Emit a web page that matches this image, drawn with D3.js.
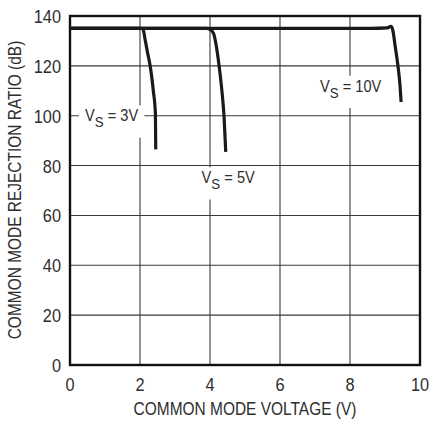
<!DOCTYPE html>
<html>
<head>
<meta charset="utf-8">
<script src="https://cdn.jsdelivr.net/npm/d3@7"></script>
<style>
  body { margin: 0; background: #fff; }
  svg text { font-family: "Liberation Sans", Arial, sans-serif; fill: #2e2e2e; }
</style>
</head>
<body>
<svg id="chart" width="435" height="424"></svg>
<script>
// CMRR vs common mode voltage
const xTicks = [0, 2, 4, 6, 8, 10];
const yTicks = [0, 20, 40, 60, 80, 100, 120, 140];

const vs3 = [[0, 135], [2.03, 135], [2.09, 134.6], [2.14, 131], [2.22, 125], [2.29, 120], [2.38, 110], [2.44, 101], [2.45, 86.5]];
const vs5 = [[0, 135], [3.9, 135], [4.0, 134.6], [4.1, 133], [4.18, 128], [4.26, 120], [4.34, 110], [4.4, 100], [4.45, 85.5]];
const vs10 = [[0, 135], [8.6, 135], [9.05, 135.2], [9.17, 135.8], [9.22, 134.5], [9.29, 128], [9.37, 120], [9.43, 112], [9.46, 105.5]];

const series = [vs3, vs5, vs10];
const labels = [
  { v: "3V", x: 1.19, y: 97.7 },
  { v: "5V", x: 4.52, y: 72.9 },
  { v: "10V", x: 8.02, y: 109.6 }
];

const SX = 0.86; // narrow the face horizontally, like the condensed original

const svg = d3.select("#chart");
const m = { l: 70, r: 15, t: 16, b: 59 };
const W = 435, H = 424;
const x = d3.scaleLinear().domain([0, 10]).range([m.l, W - m.r]);
const y = d3.scaleLinear().domain([0, 140]).range([H - m.b, m.t]);

const g = svg.append("g");

function addText(px, py, str, size, anchor, rot) {
  return g.append("text")
    .attr("transform", `translate(${px},${py})${rot ? " rotate(" + rot + ")" : ""} scale(${SX},1)`)
    .attr("text-anchor", anchor || "middle")
    .style("font-size", size + "px")
    .text(str);
}

// grid
g.selectAll(".vg").data(xTicks.slice(1, -1)).enter().append("line")
  .attr("x1", d => x(d)).attr("x2", d => x(d))
  .attr("y1", y(0)).attr("y2", y(140))
  .attr("stroke", "#3a3a3a").attr("stroke-width", 1.1);
g.selectAll(".hg").data(yTicks.slice(1, -1)).enter().append("line")
  .attr("x1", x(0)).attr("x2", x(10))
  .attr("y1", d => y(d)).attr("y2", d => y(d))
  .attr("stroke", "#3a3a3a").attr("stroke-width", 1.1);

// curve labels, on a white box that breaks the grid
labels.forEach(l => {
  const t = addText(x(l.x), y(l.y), null, 17, "middle");
  t.append("tspan").text("V");
  t.append("tspan").text("S").attr("dy", 6).style("font-size", "15.5px");
  t.append("tspan").text(" = " + l.v).attr("dy", -6);
  const bb = t.node().getBBox();
  const w = bb.width * SX;
  g.insert("rect", "text")
    .attr("x", x(l.x) - w / 2 - 6).attr("y", y(l.y) + bb.y - 1)
    .attr("width", w + 12).attr("height", bb.height + 8)
    .attr("fill", "#fff");
});

// frame
g.append("rect")
  .attr("x", x(0)).attr("y", y(140))
  .attr("width", x(10) - x(0)).attr("height", y(0) - y(140))
  .attr("fill", "none").attr("stroke", "#111").attr("stroke-width", 2.4);

// curves
const line = d3.line().x(d => x(d[0])).y(d => y(d[1])).curve(d3.curveMonotoneX);
series.forEach(s => {
  g.append("path").datum(s).attr("d", line)
    .attr("fill", "none").attr("stroke", "#1a1a1a").attr("stroke-width", 3.2)
    .attr("stroke-linejoin", "round").attr("stroke-linecap", "butt");
});

// tick labels
xTicks.forEach(d => addText(x(d), y(0) + 26, d, 19, "middle"));
yTicks.forEach(d => addText(x(0) - 9, y(d) + 7, d, 19, "end"));

// axis titles
addText(245, 415, "COMMON MODE VOLTAGE (V)", 18, "middle");
addText(21, 190, "COMMON MODE REJECTION RATIO (dB)", 18, "middle", -90);
</script>
</body>
</html>
